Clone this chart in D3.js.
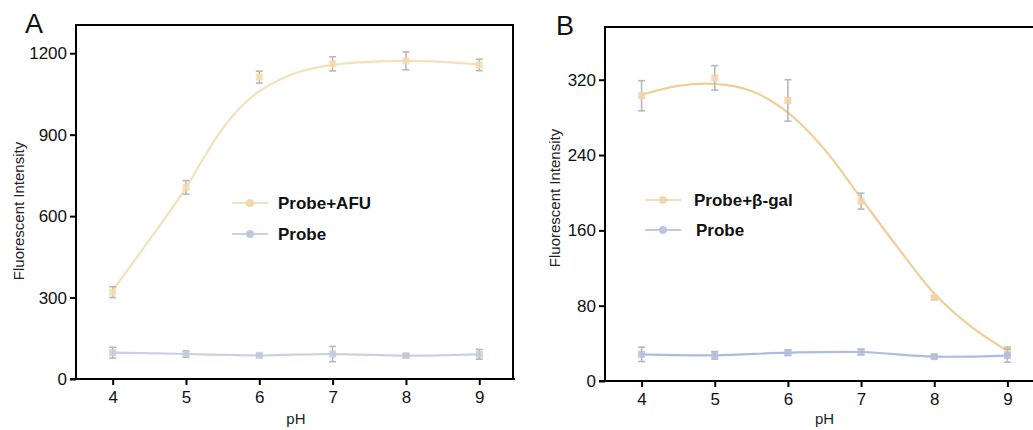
<!DOCTYPE html>
<html><head><meta charset="utf-8">
<script src="https://cdn.jsdelivr.net/npm/d3@7"></script>
<style>body{margin:0;background:#fff}svg{display:block;font-family:"Liberation Sans",Arial,sans-serif}</style>
</head><body><svg id="c" width="1033" height="430"></svg>
<script>
const pH = [4, 5, 6, 7, 8, 9];
// Panel A
const afuMean = [320, 706, 1112, 1161, 1172, 1157];
const afuErr  = [20, 25, 22, 26, 33, 21];
const probeAMean = [97, 92, 87, 92, 86, 91];
const probeAErr  = [20, 12, 5, 28, 6, 18];
const afuFitX = [4, 4.5, 5, 5.25, 5.5, 5.75, 6, 6.5, 7, 7.5, 8, 8.5, 9];
const afuFitY = [326, 512, 704, 818, 922, 1003, 1060, 1127, 1157, 1168, 1172, 1168, 1158];
const yTicksA = [0, 300, 600, 900, 1200];
// Panel B
const galMean = [303, 322, 298, 191, 88.5, 32];
const galErr  = [16, 13, 22, 8.5, 2, 4];
const probeBMean = [28.3, 27.3, 30.1, 30.8, 25.9, 27];
const probeBErr  = [7.6, 4, 3, 3, 2, 7];
const galFitX = [4, 4.5, 5, 5.5, 6, 6.5, 7, 7.5, 8, 8.5, 9];
const galFitY = [304, 313.5, 315.5, 308, 285, 246, 194, 142, 93, 58, 32];
const yTicksB = [0, 80, 160, 240, 320];
const xTicks = [4, 5, 6, 7, 8, 9];

const svg = d3.select('#c');

function panel(o) {
  const g = svg.append('g');
  const x = d3.scaleLinear().domain(o.xdom).range([o.left, o.right]);
  const y = d3.scaleLinear().domain(o.ydom).range([o.bottom, o.top]);
  const frameR = Math.min(o.right, 1040);
  g.append('path')
    .attr('d', `M${o.left},${o.bottom}V${o.top}H${frameR}` + (o.right < 1033 ? `V${o.bottom}` : ''))
    .attr('fill', 'none').attr('stroke', '#000').attr('stroke-width', 2);
  const fmt = d3.format('d');
  const ya = g.append('g').attr('transform', `translate(${o.left},0)`)
    .call(d3.axisLeft(y).tickValues(o.yTicks).tickFormat(fmt).tickSize(6).tickPadding(3).tickSizeOuter(0));
  const xa = g.append('g').attr('transform', `translate(0,${o.bottom})`)
    .call(d3.axisBottom(x).tickValues(xTicks).tickFormat(fmt).tickSize(6).tickPadding(6).tickSizeOuter(0));
  [ya, xa].forEach(a => {
    a.select('.domain').remove();
    a.selectAll('line').attr('stroke', '#000').attr('stroke-width', 2);
    a.selectAll('text').attr('font-size', 17).attr('fill', '#111')
      .attr('font-family', '"Liberation Sans",Arial,sans-serif');
  });
  g.append('line').attr('x1', o.left - 6).attr('x2', frameR + 2)
    .attr('y1', o.bottom).attr('y2', o.bottom).attr('stroke', '#000').attr('stroke-width', 2);
  g.append('text').attr('x', (x(4) + x(9)) / 2).attr('y', 424).attr('text-anchor', 'middle')
    .attr('font-size', 15).attr('fill', '#222').text('pH');
  g.append('text').attr('transform', `translate(${o.ytx},${o.yty}) rotate(-90)`)
    .attr('text-anchor', 'middle').attr('font-size', 15).attr('fill', '#222').text('Fluorescent Intensity');
  g.append('text').attr('x', o.lx).attr('y', o.ly).attr('font-size', 27).attr('fill', '#111').text(o.label);

  const curve = d3.curveCatmullRom.alpha(0.5);
  g.append('path').datum(d3.zip(o.fitX, o.fitY))
    .attr('d', d3.line().x(d => x(d[0])).y(d => y(d[1])).curve(curve))
    .attr('fill', 'none').attr('stroke', o.c1).attr('stroke-width', 2.2);
  g.append('path').datum(d3.zip(pH, o.pMean))
    .attr('d', d3.line().x(d => x(d[0])).y(d => y(d[1])).curve(curve))
    .attr('fill', 'none').attr('stroke', o.c2).attr('stroke-width', 2.2);

  function series(mean, err, col) {
    const d = d3.zip(pH, mean, err);
    const eg = g.append('g').attr('stroke', '#b8b8b8').attr('stroke-width', 1.6);
    d.forEach(([p, m, e]) => {
      eg.append('line').attr('x1', x(p)).attr('x2', x(p)).attr('y1', y(m - e)).attr('y2', y(m + e));
      eg.append('line').attr('x1', x(p) - 3.5).attr('x2', x(p) + 3.5).attr('y1', y(m - e)).attr('y2', y(m - e));
      eg.append('line').attr('x1', x(p) - 3.5).attr('x2', x(p) + 3.5).attr('y1', y(m + e)).attr('y2', y(m + e));
    });
    g.append('g').selectAll('rect').data(d).join('rect')
      .attr('x', v => x(v[0]) - 3.5).attr('y', v => y(v[1]) - 3.5)
      .attr('width', 7).attr('height', 7).attr('fill', col).attr('opacity', 0.85);
  }
  series(o.mean, o.err, o.m1);
  series(o.pMean, o.pErr, o.m2);

  const lg = g.append('g');
  o.leg.forEach(L => {
    lg.append('line').attr('x1', L.x1).attr('x2', L.x1 + 36).attr('y1', L.y).attr('y2', L.y)
      .attr('stroke', L.c).attr('stroke-width', 2.2);
    lg.append('circle').attr('cx', L.x1 + 18).attr('cy', L.y).attr('r', 4).attr('fill', L.m);
    lg.append('text').attr('x', L.tx).attr('y', L.y + 6).attr('font-size', 17)
      .attr('font-weight', 'bold').attr('fill', '#111').text(L.t);
  });
}

panel({
  xdom: [3.5, 9.46], left: 76, right: 513, ydom: [0, 1304], top: 25, bottom: 379,
  yTicks: yTicksA, ytx: 24, yty: 211, label: 'A', lx: 25, ly: 33,
  fitX: afuFitX, fitY: afuFitY, mean: afuMean, err: afuErr, pMean: probeAMean, pErr: probeAErr,
  c1: '#f3e1bb', c2: '#c9d1e6', m1: '#f6dcaa', m2: '#c3cbe2',
  leg: [{x1: 232, y: 203, tx: 278, t: 'Probe+AFU', c: '#f3e1bb', m: '#f1d9ac'},
        {x1: 232, y: 234, tx: 278, t: 'Probe', c: '#c9d1e6', m: '#c0c8dc'}]
});
panel({
  xdom: [3.5, 9.5], left: 605, right: 1044, ydom: [0, 376], top: 27, bottom: 381,
  yTicks: yTicksB, ytx: 560, yty: 198, label: 'B', lx: 556, ly: 35,
  fitX: galFitX, fitY: galFitY, mean: galMean, err: galErr, pMean: probeBMean, pErr: probeBErr,
  c1: '#f0cf97', c2: '#aebcdf', m1: '#f4d3a0', m2: '#b1bedd',
  leg: [{x1: 645, y: 200, tx: 694, t: 'Probe+β-gal', c: '#f0deb8', m: '#efd6ad'},
        {x1: 645, y: 230, tx: 696, t: 'Probe', c: '#c0c8e0', m: '#bcc5dd'}]
});
</script></body></html>
